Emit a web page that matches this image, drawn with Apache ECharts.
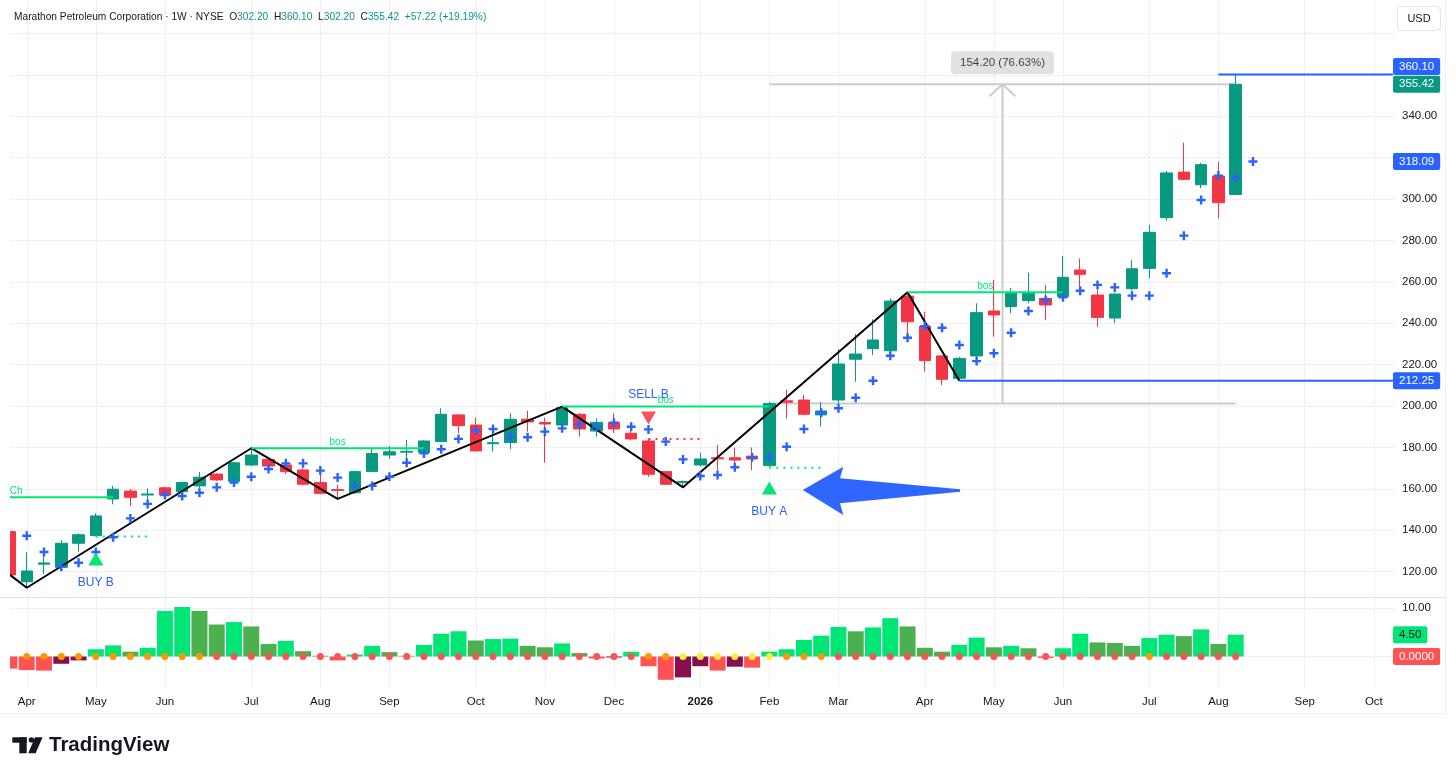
<!DOCTYPE html>
<html>
<head>
<meta charset="utf-8">
<title>Marathon Petroleum Corporation · 1W · NYSE</title>
<script src="https://cdn.jsdelivr.net/npm/echarts@6.0.0/dist/echarts.min.js"></script>
<style>
  html, body { margin: 0; padding: 0; background: #ffffff; }
  #container { width: 1456px; height: 775px; }
</style>
</head>
<body>
<div id="container"></div>
<script>
// weekly bars, index 0 = week of 31 Mar 2025, last = week of 10 Aug 2026
var opens  = [139.3,115.1,123.6,122.1,133.7,137.4,155.1,158.9,157.0,160.5,158.6,161.4,167.1,163.6,171.5,174.2,171.5,169.1,163.0,159.6,
              158.1,168.3,176.3,177.7,177.4,182.8,195.7,190.8,181.8,182.3,193.6,192.0,190.8,196.0,187.9,192.1,186.8,183.1,168.3,163.0,
              171.5,175.0,175.0,175.8,171.2,202.5,202.9,195.7,202.9,222.6,227.7,226.7,253.1,238.6,224.2,213.4,224.2,245.9,248.0,250.9,
              252.0,252.8,265.7,253.6,242.5,256.7,266.5,291.0,313.0,306.9,311.1,302.2];
var closes = [118.4,120.3,124.2,133.7,137.8,146.9,159.8,155.9,157.5,157.0,163.0,165.6,164.3,172.6,176.3,171.0,168.3,162.2,157.8,159.2,
              168.3,177.1,177.9,178.1,183.1,196.0,190.5,178.3,182.3,193.6,192.3,191.3,199.2,188.9,192.1,188.9,184.1,167.0,162.2,163.5,
              174.4,174.5,173.9,174.4,201.22,201.8,196.0,197.6,220.3,225.1,231.9,250.7,240.7,221.9,212.9,223.0,245.1,244.0,254.4,254.4,
              248.8,262.2,263.6,242.8,254.1,266.3,283.9,312.6,309.5,316.6,298.2,355.42];
var lows   = [117.0,112.2,118.8,121.5,129.6,137.0,152.5,151.7,153.8,156.5,158.0,160.2,163.8,163.0,171.0,169.5,167.2,161.7,157.3,155.1,
              157.5,168.0,174.4,171.5,176.5,182.5,186.8,178.0,178.0,179.2,187.6,172.6,190.0,185.2,185.2,187.0,183.5,165.8,161.8,160.7,
              170.7,169.1,170.0,169.0,170.5,194.0,195.5,190.0,201.3,211.7,224.6,226.0,233.2,216.6,210.1,212.25,223.5,233.5,244.8,249.6,
              241.5,252.0,256.0,238.3,240.0,255.8,261.7,289.5,309.0,305.2,290.7,302.2];
var highs  = [140.5,129.3,128.8,135.2,138.5,148.2,161.4,160.0,160.2,161.0,163.5,168.1,167.5,173.0,179.6,175.0,173.3,170.0,167.2,161.9,
              168.7,179.2,180.7,183.6,183.5,198.9,196.0,194.4,187.3,196.5,197.7,194.4,199.7,196.5,194.0,196.5,188.0,184.0,168.5,164.0,
              177.4,181.2,180.0,180.0,202.1,208.0,205.3,202.0,227.4,234.8,241.9,252.0,254.9,245.6,224.5,223.7,249.6,260.9,257.0,264.4,
              258.5,272.5,271.3,256.0,254.5,270.5,287.4,313.5,327.2,317.5,318.0,360.1];

// blue "+" trail, one more point than bars (next week)
var trailDots = [140.9,137.3,129.5,122.4,124.3,129.5,136.6,145.7,152.7,157.0,156.5,158.1,160.7,163.0,165.8,169.6,172.3,172.3,168.8,165.4,
                 161.4,161.4,165.8,172.6,177.1,179.1,184.1,188.1,188.9,185.2,184.9,187.6,189.2,191.2,190.0,191.9,190.0,188.7,182.8,174.2,
                 166.2,166.7,170.4,175.2,175.2,180.3,188.9,196.8,198.9,204.0,212.2,224.3,233.0,238.6,237.8,229.5,221.7,225.5,235.4,245.9,
                 251.2,252.5,255.7,258.5,257.3,253.3,253.3,264.1,282.3,299.5,311.3,310.3,318.09];

// lower pane: momentum histogram and squeeze state (0 off, 1 on, 2 tight)
var momentum = [-2.5,-2.8,-2.9,-1.5,-0.8,1.5,2.3,1.0,1.8,9.4,10.2,9.4,6.6,7.1,6.2,2.6,3.2,1.1,0.15,-0.8,
                0.4,2.2,0.9,0.15,2.4,4.7,5.2,3.3,3.6,3.7,2.2,1.9,2.7,0.7,-0.4,-0.2,1.0,-2.0,-4.8,-4.3,
                -2.0,-2.9,-2.1,-2.3,1.0,1.5,3.4,4.3,6.1,5.2,6.0,7.9,6.2,1.8,1.0,2.4,3.9,1.9,2.2,1.7,
                -0.3,1.7,4.7,2.9,2.8,2.2,3.8,4.5,4.2,5.6,2.6,4.5];
var squeeze = [1,1,1,1,1,1,1,1,1,1,1,1,0,0,0,0,0,0,0,0,
               0,0,0,0,0,0,0,0,0,0,0,0,0,0,0,0,0,1,1,2,
               2,2,2,2,2,1,1,1,0,0,0,0,0,0,0,0,0,0,0,0,
               0,0,0,0,0,0,1,0,0,0,0,0];

// time axis
var monthIdx = [1,5,9,14,18,22,27,31,35,40,44,48,53,57,61,66,70,75,79];
var monthLbl = ['Apr','May','Jun','Jul','Aug','Sep','Oct','Nov','Dec','2026','Feb','Mar','Apr','May','Jun','Jul','Aug','Sep','Oct'];
var priceTicks = [120,140,160,180,200,220,240,260,280,300,320,340,360,380];
var priceLabels = [120,140,160,180,200,220,240,260,280,300,340];

// drawings on the price pane: [index, price]
var zigzag = [[-1,125],[1,112.2],[14,179.6],[19,155.1],[32,199.7],[39,160.7],[52,254.9],[55,212.25]];
var structLines = [[-6.3,6,155.9,'ChoCh'],[14,24,179.6,'bos'],[32,44,199.7,'bos'],[52,61,254.9,'bos']];
var levelLines = [[70,360.10],[55,212.25]];
var dotLines = [[5,8,136.9,'buy'],[37,40,184.1,'sell'],[44,47,170.2,'buy']];
var buySignals = [[5,126.1,'BUY B'],[44,160.4,'BUY A']];
var sellSignals = [[37,194.2,'SELL B']];
var measureFrom = 44, measureTo = 71, measureAt = 57.5;
var bigArrow = [[45.93,159.42],[48.28,170.68],[48.09,165.07],[55.04,159.76],[55.04,158.6],[48.09,153.0],[48.28,147.34]];

var xMin = 0.03, xMax = 80.11;
var yMin = 107.73, yMax = 396.14;
var hMin = -6.49, hMax = 12.06;

var FONT = '"Liberation Sans", Arial, sans-serif';
var UP = '#089981', DOWN = '#f23645', BLUE = '#2962ff', LIME = '#00e676';
var GRID = { color: '#e0e3eb', type: 'dotted', width: 1 };
var HIDDEN = { color: 'rgba(0,0,0,0)', width: 1 };

var dom = document.getElementById('container');
var myChart = echarts.init(dom, null, { renderer: 'canvas' });

var last = opens.length - 1;
var chg = closes[last] - closes[last - 1];
var pct = chg / closes[last - 1] * 100;
var mBase = closes[measureFrom], mTop = closes[measureTo];
var mDiff = mTop - mBase;

function histColor(i) {
  var v = momentum[i], p = i > 0 ? momentum[i - 1] : v;
  if (v >= 0) return v >= p ? LIME : '#4caf50';
  return v <= p ? '#ff5252' : '#880e4f';
}
var sqColors = ['#ff5252', '#ff9800', '#ffeb3b'];

// price-scale tag
function axisBox(value, bg, fg, txt, offY) {
  return {
    yAxis: value,
    label: {
      show: true, position: 'end', distance: 0, formatter: txt, opacity: 1,
      backgroundColor: bg, color: fg, fontFamily: FONT, fontSize: 11.5,
      padding: [3, 6, 2, 6], borderRadius: 2, offset: [0, offY || 0]
    }
  };
}

var series = [];

// ruler (behind candles)
[[[measureFrom, mTop], [measureTo, mTop]],
 [[measureFrom, mBase], [measureTo, mBase]],
 [[measureAt, mBase], [measureAt, mTop]],
 [[measureAt - 0.75, mTop - 5.8], [measureAt, mTop], [measureAt + 0.75, mTop - 5.8]]
].forEach(function (pts) {
  series.push({
    type: 'line', z: 1, silent: true, symbol: 'none', animation: false,
    lineStyle: { color: '#cccccc', width: 2 },
    data: pts
  });
});
series.push({
  type: 'scatter', z: 6, silent: true, symbolSize: 0, animation: false,
  data: [[measureAt, mTop]],
  label: {
    show: true, position: 'top', distance: 10,
    formatter: mDiff.toFixed(2) + ' (' + (mDiff / mBase * 100).toFixed(2) + '%)',
    backgroundColor: '#dadada', color: '#131722', fontFamily: FONT, fontSize: 11.5,
    padding: [6, 9, 5, 9], borderRadius: 4
  }
});

// candles
series.push({
  type: 'candlestick', z: 2, barWidth: 12, animation: false, clip: true,
  encode: { x: 0, y: [1, 2, 3, 4] },
  data: opens.map(function (o, i) { return [i, o, closes[i], lows[i], highs[i]]; }),
  itemStyle: { color: UP, color0: DOWN, borderColor: UP, borderColor0: DOWN, borderWidth: 1 },
  markLine: {
    silent: true, symbol: 'none', animation: false,
    lineStyle: HIDDEN,
    data: [
      axisBox(highs[last], BLUE, '#ffffff', highs[last].toFixed(2), -8),
      axisBox(closes[last], UP, '#ffffff', closes[last].toFixed(2), 0),
      axisBox(trailDots[trailDots.length - 1], BLUE, '#ffffff', trailDots[trailDots.length - 1].toFixed(2), 0),
      axisBox(zigzag[zigzag.length - 1][1], BLUE, '#ffffff', zigzag[zigzag.length - 1][1].toFixed(2), 0)
    ]
  }
});

// zigzag
series.push({
  type: 'line', z: 3, silent: true, symbol: 'none', animation: false,
  lineStyle: { color: '#000000', width: 2 },
  data: zigzag
});

// structure breaks
structLines.forEach(function (s) {
  series.push({
    type: 'line', z: 3, silent: true, symbol: 'none', animation: false,
    lineStyle: { color: LIME, width: 2 },
    data: [[s[0], s[2]], [s[1], s[2]]]
  });
});
series.push({
  type: 'custom', z: 6, silent: true, clip: true, animation: false,
  data: structLines.map(function (s) { return [(s[0] + s[1]) / 2, s[2]]; }),
  renderItem: function (params, api) {
    var p = api.coord([api.value(0), api.value(1)]);
    return {
      type: 'text', x: p[0], y: p[1] - 1,
      style: { text: structLines[params.dataIndex][3], fill: LIME, font: '10px ' + FONT, align: 'center', verticalAlign: 'bottom' }
    };
  }
});

// horizontal rays
levelLines.forEach(function (l) {
  series.push({
    type: 'line', z: 3, silent: true, symbol: 'none', animation: false,
    lineStyle: { color: BLUE, width: 2 },
    data: [[l[0], l[1]], [xMax, l[1]]]
  });
});

// dotted stop lines
dotLines.forEach(function (d) {
  series.push({
    type: 'line', z: 3, silent: true, symbol: 'none', animation: false,
    lineStyle: { color: d[3] === 'buy' ? LIME : '#f23645', width: 2, type: [2, 5] },
    data: [[d[0], d[2]], [d[1], d[2]]]
  });
});

// blue crosses
series.push({
  type: 'scatter', z: 4, silent: true, animation: false,
  symbol: 'path://M3.3 0h2.4v3.3h3.3v2.4h-3.3v3.3h-2.4v-3.3h-3.3v-2.4h3.3z', symbolSize: 9,
  itemStyle: { color: BLUE, opacity: 1 },
  data: trailDots.map(function (v, i) { return [i, v]; })
});

// signals
series.push({
  type: 'scatter', z: 5, silent: true, animation: false,
  symbol: 'triangle', symbolSize: [15, 13], itemStyle: { color: LIME, opacity: 1 },
  data: buySignals.map(function (s) { return [s[0], s[1], s[2]]; }),
  label: {
    show: true, position: 'bottom', distance: 11, color: BLUE, fontFamily: FONT, fontSize: 12,
    formatter: function (p) { return p.value[2]; }
  }
});
series.push({
  type: 'scatter', z: 5, silent: true, animation: false,
  symbol: 'triangle', symbolRotate: 180, symbolSize: [15, 13], itemStyle: { color: '#f7525f', opacity: 1 },
  data: sellSignals.map(function (s) { return [s[0], s[1], s[2]]; }),
  label: {
    show: true, position: 'top', distance: 11, color: BLUE, fontFamily: FONT, fontSize: 12,
    formatter: function (p) { return p.value[2]; }
  }
});

// big arrow
series.push({
  type: 'custom', z: 5, silent: true, clip: true, animation: false,
  data: [[50, 160]],
  renderItem: function (params, api) {
    return {
      type: 'polygon',
      shape: { points: bigArrow.map(function (p) { return api.coord(p); }) },
      style: { fill: '#2f66ff' }
    };
  }
});

// lower pane
series.push({
  type: 'bar', xAxisIndex: 1, yAxisIndex: 1, barWidth: 16, silent: true, animation: false,
  data: momentum.map(function (v, i) { return [i, v]; }),
  itemStyle: { color: function (p) { return histColor(p.dataIndex); } },
  markLine: {
    silent: true, symbol: 'none', animation: false,
    lineStyle: HIDDEN,
    data: [
      axisBox(momentum[last], LIME, '#131722', momentum[last].toFixed(2), 0),
      axisBox(0, '#ff5252', '#ffffff', (0).toFixed(4), 0)
    ]
  }
});
series.push({
  type: 'scatter', xAxisIndex: 1, yAxisIndex: 1, z: 4, silent: true, animation: false,
  symbolSize: 7,
  itemStyle: { opacity: 1, color: function (p) { return sqColors[squeeze[p.dataIndex]]; } },
  data: squeeze.map(function (s, i) { return [i, 0]; })
});

function xAxisCfg(grid, showLabels) {
  return {
    type: 'value', gridIndex: grid, min: xMin, max: xMax,
    axisLine: { show: false },
    axisTick: { show: false, customValues: monthIdx },
    axisLabel: {
      show: showLabels, customValues: monthIdx, margin: 8,
      color: '#131722', fontFamily: FONT, fontSize: 11.5,
      formatter: function (v) {
        var k = monthIdx.indexOf(v);
        var t = k < 0 ? '' : monthLbl[k];
        return /^\d+$/.test(t) ? '{b|' + t + '}' : t;
      },
      rich: { b: { fontWeight: 'bold', color: '#131722', fontFamily: FONT, fontSize: 11.5 } }
    },
    splitLine: { show: true, lineStyle: GRID }
  };
}

var option = {
  backgroundColor: '#ffffff',
  animation: false,
  title: {
    left: 14, top: 12, padding: 0,
    text: '{n|Marathon Petroleum Corporation · 1W · NYSE}  {n|O}{v|' + opens[last].toFixed(2) + '}  {n|H}{v|' + highs[last].toFixed(2) +
          '}  {n|L}{v|' + lows[last].toFixed(2) + '}  {n|C}{v|' + closes[last].toFixed(2) + '}  {v|' +
          (chg >= 0 ? '+' : '') + chg.toFixed(2) + ' (' + (pct >= 0 ? '+' : '') + pct.toFixed(2) + '%)}',
    textStyle: {
      fontFamily: FONT, fontSize: 10.2, fontWeight: 'normal', color: '#131722',
      rich: {
        n: { color: '#131722', fontFamily: FONT, fontSize: 10.2 },
        v: { color: UP, fontFamily: FONT, fontSize: 10.2 }
      }
    }
  },
  grid: [
    { left: 10, right: 63, top: 0, height: 597 },
    { left: 10, right: 63, top: 598, height: 90 }
  ],
  xAxis: [xAxisCfg(0, false), xAxisCfg(1, true)],
  yAxis: [
    {
      type: 'value', gridIndex: 0, position: 'right', min: yMin, max: yMax,
      axisLine: { show: false },
      axisTick: { show: false, customValues: priceTicks },
      axisLabel: {
        customValues: priceLabels, margin: 9, color: '#131722', fontFamily: FONT, fontSize: 11.5,
        formatter: function (v) { return v.toFixed(2); }
      },
      splitLine: { show: true, lineStyle: GRID }
    },
    {
      type: 'value', gridIndex: 1, position: 'right', min: hMin, max: hMax,
      axisLine: { show: false },
      axisTick: { show: false, customValues: [0, 10] },
      axisLabel: {
        customValues: [10], margin: 9, color: '#131722', fontFamily: FONT, fontSize: 11.5,
        formatter: function (v) { return v.toFixed(2); }
      },
      splitLine: { show: true, lineStyle: GRID }
    }
  ],
  graphic: [
    // left edge of the panes hides the part of the first bar outside the plot
    { type: 'rect', silent: true, z: 100, shape: { x: 0, y: 0, width: 10, height: 688 }, style: { fill: '#ffffff' } },
    { type: 'line', silent: true, z: 101, shape: { x1: 0, y1: 597.5, x2: 1446, y2: 597.5 }, style: { stroke: '#e0e3eb', lineWidth: 1 } },
    { type: 'line', silent: true, shape: { x1: 0, y1: 713.5, x2: 1446, y2: 713.5 }, style: { stroke: '#eceef2', lineWidth: 1 } },
    { type: 'line', silent: true, shape: { x1: 1445.5, y1: 0, x2: 1445.5, y2: 714 }, style: { stroke: '#eceef2', lineWidth: 1 } },
    { type: 'rect', silent: true, shape: { x: 1397.5, y: 6.5, width: 43, height: 24, r: 4 }, style: { fill: '#ffffff', stroke: '#e0e3eb', lineWidth: 1 } },
    { type: 'text', silent: true, x: 1419, y: 19, style: { text: 'USD', fill: '#131722', font: '11px ' + FONT, align: 'center', verticalAlign: 'middle' } },
    // TradingView mark
    { type: 'rect', silent: true, shape: { x: 12.3, y: 737.3, width: 14.4, height: 5.4 }, style: { fill: '#131722' } },
    { type: 'rect', silent: true, shape: { x: 19.3, y: 737.3, width: 7.4, height: 16 }, style: { fill: '#131722' } },
    { type: 'circle', silent: true, shape: { cx: 31.4, cy: 739.9, r: 2.7 }, style: { fill: '#131722' } },
    { type: 'polygon', silent: true, shape: { points: [[35, 737.3], [42.6, 737.3], [35.6, 753.3], [28.2, 753.3]] }, style: { fill: '#131722' } },
    { type: 'text', silent: true, x: 49, y: 745.5, style: { text: 'TradingView', fill: '#131722', font: 'bold 20.5px ' + FONT, verticalAlign: 'middle' } }
  ],
  series: series
};

myChart.setOption(option);
window.addEventListener('resize', myChart.resize);
</script>
</body>
</html>
